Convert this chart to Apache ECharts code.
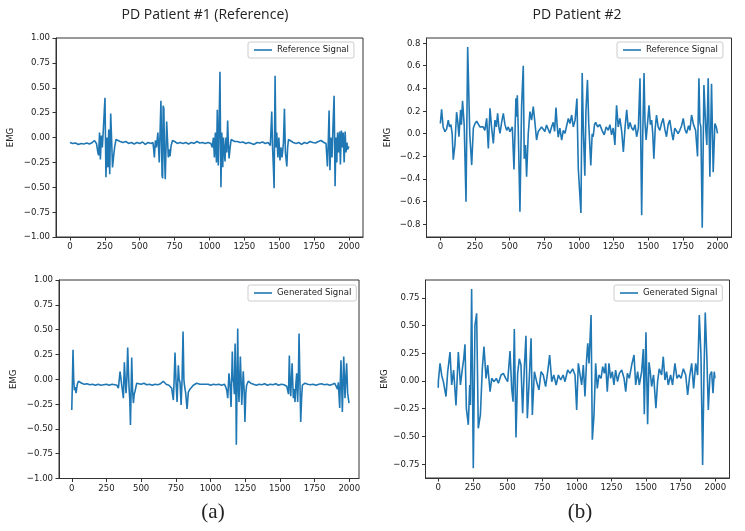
<!DOCTYPE html>
<html><head><meta charset="utf-8">
<script src="https://cdn.jsdelivr.net/npm/echarts@6/dist/echarts.min.js"></script>
<style>html,body{margin:0;padding:0;background:#fff}#c{width:745px;height:531px}</style>
</head><body><div id="c"></div><script>
const xTicks = [0,250,500,750,1000,1250,1500,1750,2000];
const yTicksA = [-1,-0.75,-0.5,-0.25,0,0.25,0.5,0.75,1];
const yTicksTR = [-0.8,-0.6,-0.4,-0.2,0,0.2,0.4,0.6,0.8];
const yTicksBR = [-0.75,-0.5,-0.25,0,0.25,0.5,0.75];
const panelTitles = ['PD Patient #1 (Reference)','PD Patient #2'];
const captions = ['(a)','(b)'];
const seriesNames = ['Reference Signal','Reference Signal','Generated Signal','Generated Signal'];

// Top-left: PD patient #1 reference
const tlX = [0,20,40,60,80,100,120,140,160,175,190,200,205,212,218,225,232,240,251,258,265,272,278,285,292,298,305,312,320,330,342,360,380,400,420,440,460,480,500,520,540,560,580,595,600,605,612,620,630,640,652,660,664,668,673,678,683,693,700,705,712,717,725,735,750,770,790,810,830,850,870,890,910,930,950,970,990,1010,1020,1028,1035,1042,1050,1056,1060,1063,1068,1075,1082,1088,1095,1100,1105,1111,1118,1124,1130,1135,1140,1148,1155,1165,1180,1200,1220,1240,1260,1280,1300,1320,1340,1360,1380,1400,1420,1436,1446,1452,1458,1463,1470,1476,1482,1490,1497,1505,1512,1520,1530,1537,1544,1554,1560,1566,1580,1600,1620,1640,1660,1680,1700,1720,1740,1760,1780,1800,1820,1835,1845,1850,1857,1863,1870,1878,1886,1893,1900,1906,1912,1918,1925,1932,1938,1945,1952,1958,1965,1972,1978,1985,1990,1999];
const tlY = [-0.05,-0.06,-0.055,-0.07,-0.06,-0.065,-0.055,-0.065,-0.05,-0.03,-0.06,-0.15,-0.18,0.05,-0.22,0.02,-0.1,0.1,0.40,-0.40,0.0,-0.3,0.08,-0.37,0.24,0.0,-0.3,-0.2,-0.1,-0.02,-0.01,-0.04,-0.05,-0.04,-0.06,-0.05,-0.065,-0.05,-0.06,-0.045,-0.07,-0.05,-0.06,-0.05,-0.12,-0.2,-0.03,-0.1,0.05,-0.25,0.37,-0.38,-0.41,0.32,0.29,-0.2,-0.42,0.16,-0.05,-0.2,-0.12,-0.19,-0.08,-0.03,-0.04,-0.06,-0.05,-0.06,-0.05,-0.065,-0.05,-0.06,-0.04,-0.055,-0.05,-0.06,-0.05,-0.06,-0.1,0.0,-0.2,0.05,-0.25,0.28,-0.1,-0.28,0.05,0.66,-0.50,0.05,-0.3,0.0,-0.1,-0.24,0.0,-0.15,0.17,-0.05,-0.21,-0.1,-0.02,-0.01,-0.04,-0.04,-0.05,-0.045,-0.06,-0.05,-0.06,-0.07,-0.05,-0.055,-0.045,-0.06,-0.05,-0.08,0.26,-0.1,-0.3,-0.51,0.62,-0.1,0.05,-0.2,0.0,-0.23,-0.1,-0.2,-0.05,0.29,-0.15,-0.29,-0.1,-0.02,-0.03,-0.05,-0.06,-0.05,-0.07,-0.05,-0.06,-0.04,-0.05,-0.055,-0.04,-0.03,-0.05,-0.06,-0.29,-0.1,0.27,-0.33,0.0,-0.2,0.15,0.42,-0.49,0.0,-0.25,0.05,-0.15,0.06,-0.27,0.07,-0.1,0.05,-0.25,0.06,-0.15,-0.05,-0.12,-0.09];

// Top-right: PD patient #2 reference
const trX = [0,9,20,33,45,57,66,76,85,93,105,117,126,134,146,152,160,172,185,197,212,226,238,250,262,273,285,297,309,321,334,346,358,370,382,394,404,413,422,430,442,454,466,478,490,502,519,531,545,550,555,562,574,586,598,605,614,622,634,646,658,670,682,694,706,718,730,742,754,766,778,790,802,814,824,834,842,850,862,875,887,899,911,923,935,947,959,972,985,995,1014,1023,1032,1042,1050,1061,1070,1085,1095,1102,1112,1120,1135,1150,1166,1182,1196,1211,1223,1235,1247,1259,1271,1283,1295,1308,1320,1332,1344,1356,1368,1380,1392,1404,1416,1428,1440,1452,1460,1469,1476,1484,1495,1505,1515,1524,1532,1540,1550,1559,1571,1583,1595,1607,1619,1631,1643,1655,1667,1679,1691,1703,1715,1727,1740,1752,1764,1776,1790,1800,1812,1826,1841,1855,1865,1872,1879,1889,1901,1915,1922,1932,1944,1956,1968,1980,1990,1999];
const trY = [0.09,0.216,0.06,0.018,0.04,0.12,0.06,0.08,0.0,-0.23,-0.1,0.19,0.1,-0.027,0.21,0.08,0.29,0.077,-0.60,0.765,0.0,-0.277,0.05,0.09,0.11,0.10,0.06,0.047,0.06,0.03,0.135,-0.13,0.224,0.05,-0.085,0.12,0.06,0.18,0.06,0.003,0.1,0.18,0.08,0.03,0.06,0.018,0.06,-0.316,0.313,0.15,0.34,0.03,-0.69,0.245,0.6,-0.22,-0.1,-0.38,0.0,0.195,0.12,0.24,0.1,-0.056,0.02,0.003,0.06,0.047,0.02,0.077,0.04,0.003,0.06,0.1,0.02,0.23,0.08,-0.03,0.05,-0.056,0.03,0.003,0.07,0.135,0.09,0.165,0.06,0.12,0.31,-0.31,-0.70,0.535,0.0,-0.37,0.2,0.475,0.1,-0.28,0.0,-0.027,0.08,0.10,0.06,0.08,0.03,-0.01,0.06,0.03,0.08,-0.01,0.05,-0.1,0.25,0.06,0.135,0.02,-0.16,0.05,0.21,0.04,0.1,0.05,0.03,0.08,-0.027,0.05,0.49,-0.72,0.0,0.535,0.1,-0.056,0.1,0.25,0.08,0.12,0.0,-0.22,0.05,0.165,0.06,0.03,0.09,0.135,0.04,-0.027,0.08,0.12,0.02,-0.056,0.05,0.06,0.0,0.03,0.07,0.135,0.04,0.003,0.07,0.03,0.165,0.08,0.03,-0.2,0.49,0.1,0.06,-0.83,0.43,0.03,-0.1,0.49,-0.38,0.44,-0.34,0.09,0.06,0.003];

// Bottom-left: PD patient #1 generated
const blX = [0,5,9,14,19,25,31,40,48,60,72,90,110,130,150,170,190,210,230,250,270,290,310,325,336,348,360,372,379,385,391,397,403,408,413,418,423,432,438,444,450,456,468,480,500,520,540,560,580,600,620,640,660,680,700,712,720,732,738,744,752,759,768,774,780,788,795,802,808,812,821,831,840,852,864,876,888,900,912,924,936,950,966,984,1000,1020,1040,1060,1080,1100,1110,1117,1124,1133,1140,1148,1157,1162,1167,1172,1177,1182,1186,1196,1200,1205,1210,1215,1220,1225,1230,1236,1242,1248,1254,1260,1272,1290,1310,1330,1350,1370,1390,1410,1430,1450,1470,1490,1510,1530,1549,1556,1562,1568,1573,1578,1583,1588,1593,1597,1603,1609,1615,1621,1628,1633,1638,1644,1650,1656,1662,1681,1700,1720,1740,1760,1780,1800,1820,1840,1860,1880,1895,1909,1915,1921,1931,1935,1940,1945,1950,1955,1960,1965,1969,1975,1981,1988,1993,1998];
const blY = [-0.31,0.0,0.296,0.0,-0.11,-0.08,-0.14,-0.05,-0.02,-0.04,-0.04,-0.05,-0.045,-0.055,-0.05,-0.06,-0.05,-0.06,-0.055,-0.05,-0.06,-0.05,-0.055,-0.06,-0.09,0.077,-0.058,-0.19,0.17,0.0,-0.14,0.0,0.32,0.1,-0.09,-0.2,-0.46,0.22,-0.1,-0.24,-0.15,-0.12,-0.04,-0.045,-0.05,-0.04,-0.055,-0.05,-0.06,-0.05,-0.055,-0.045,-0.02,-0.05,-0.06,-0.05,-0.09,-0.21,0.0,0.27,-0.05,-0.23,0.14,0.0,-0.03,-0.26,0.0,0.48,0.0,-0.06,-0.14,-0.30,-0.13,-0.1,-0.08,-0.06,-0.05,-0.04,-0.03,-0.05,-0.06,-0.05,-0.05,-0.05,-0.06,-0.05,-0.055,-0.05,-0.06,-0.05,-0.08,-0.11,-0.19,0.06,-0.05,-0.28,0.28,0.0,-0.03,-0.15,0.36,0.0,-0.66,0.51,0.0,-0.23,0.0,0.23,0.0,-0.26,-0.1,0.08,-0.1,-0.43,-0.15,-0.06,-0.02,-0.04,-0.05,-0.06,-0.05,-0.055,-0.045,-0.06,-0.05,-0.055,-0.045,-0.06,-0.05,-0.055,-0.07,-0.09,-0.15,0.24,-0.05,-0.17,0.0,0.16,-0.05,-0.19,-0.1,-0.23,-0.05,0.06,-0.23,0.0,0.46,0.0,-0.43,-0.2,-0.06,-0.04,-0.05,-0.055,-0.05,-0.06,-0.05,-0.045,-0.055,-0.05,-0.06,-0.05,-0.04,-0.05,-0.1,-0.03,-0.29,-0.05,0.19,-0.05,-0.33,-0.05,0.23,0.0,-0.19,0.0,0.16,-0.14,-0.15,-0.24];

// Bottom-right: PD patient #2 generated
const brX = [0,1,13,25,37,49,56,68,85,97,111,128,145,160,174,184,193,203,217,227,232,241,253,265,277,289,304,318,330,345,357,374,386,403,419,434,453,470,487,501,518,530,540,549,561,573,585,597,609,621,633,643,657,670,679,694,710,727,742,758,775,790,804,819,834,851,867,884,901,915,934,951,970,987,999,1011,1023,1035,1047,1059,1071,1079,1088,1103,1112,1124,1136,1148,1160,1175,1187,1199,1208,1220,1232,1244,1256,1268,1280,1294,1307,1324,1341,1353,1365,1379,1396,1413,1425,1439,1451,1468,1480,1487,1499,1511,1521,1530,1540,1554,1571,1583,1595,1612,1624,1636,1648,1660,1677,1691,1708,1723,1737,1752,1769,1786,1800,1814,1829,1843,1858,1872,1884,1896,1908,1918,1927,1939,1949,1961,1973,1983,1992,1997];
const brY = [-0.06,0.0,0.16,0.05,-0.006,0.01,-0.14,0.08,0.26,-0.036,0.098,-0.22,0.26,-0.036,0.11,0.2,0.33,-0.246,-0.395,-0.036,-0.216,0.829,-0.786,0.504,0.61,-0.426,-0.306,0.11,0.31,0.024,0.144,-0.096,0.024,-0.006,0.024,-0.02,0.054,0.069,0.024,-0.006,0.27,-0.066,-0.186,0.468,-0.51,0.069,0.2,0.144,-0.29,0.11,0.408,-0.336,0.024,0.384,-0.306,0.084,-0.006,-0.08,0.084,0.054,-0.05,0.084,0.234,-0.006,0.054,-0.036,0.054,0.009,0.054,-0.006,0.099,0.069,0.11,0.054,-0.26,0.159,0.144,-0.036,0.144,-0.14,0.2,0.339,0.159,0.594,-0.53,-0.306,0.159,-0.066,0.054,0.024,0.129,0.069,0.159,-0.096,0.159,0.024,0.084,-0.036,0.099,-0.006,0.069,0.099,0.024,-0.096,0.069,0.024,0.144,0.234,-0.036,0.084,-0.036,0.084,0.288,-0.3,0.438,-0.39,0.168,0.084,-0.05,0.054,-0.246,-0.006,0.11,0.054,0.219,0.009,0.084,-0.036,0.054,-0.036,0.159,0.024,0.054,0.024,0.11,0.054,-0.126,0.039,0.159,-0.066,0.159,0.054,0.594,0.234,-0.756,0.084,0.618,0.2,-0.26,0.054,0.084,-0.11,0.084,0.024];

const zip = (xs, ys) => xs.map((x, i) => [x, ys[i]]);
const fam = '"DejaVu Sans Condensed", "DejaVu Sans", sans-serif';
const lblColor = '#222';
const fmt = d => v => (v < 0 ? '\u2212' : '') + Math.abs(v).toFixed(d);

const grids = [
  {left: 56, top: 38, width: 307, height: 199},
  {left: 426.5, top: 38, width: 305, height: 199},
  {left: 59, top: 280, width: 300, height: 198.5},
  {left: 425.5, top: 280, width: 304, height: 198}
];
const xRanges = [[-100, 2100], [-100, 2100], [-92, 2070], [-92, 2102]];
const yCfg = [
  {min: -1, max: 1, ticks: yTicksA, d: 2, gap: 40},
  {min: -0.912, max: 0.845, ticks: yTicksTR, d: 1, gap: 34},
  {min: -1, max: 1, ticks: yTicksA, d: 2, gap: 40},
  {min: -0.874, max: 0.91, ticks: yTicksBR, d: 2, gap: 34}
];
const legendPos = [
  {left: 248, top: 42},
  {left: 617, top: 42},
  {left: 248, top: 285},
  {left: 614, top: 285}
];
const datas = [zip(tlX, tlY), zip(trX, trY), zip(blX, blY), zip(brX, brY)];

const option = {
  animation: false,
  backgroundColor: '#fff',
  grid: grids.map(g => Object.assign({show: true, borderColor: '#333', borderWidth: 1, backgroundColor: '#fff'}, g)),
  xAxis: grids.map((g, i) => ({
    type: 'value', gridIndex: i, min: xRanges[i][0], max: xRanges[i][1],
    axisLine: {show: true, onZero: false, lineStyle: {color: '#333', width: 1}},
    axisTick: {show: true, length: 3.5, customValues: xTicks, lineStyle: {color: '#333'}},
    axisLabel: {show: true, customValues: xTicks, margin: 5, fontSize: 9.5, fontFamily: fam, color: lblColor, formatter: v => String(v)},
    splitLine: {show: false}
  })),
  yAxis: yCfg.map((c, i) => ({
    type: 'value', gridIndex: i, min: c.min, max: c.max,
    name: 'EMG', nameLocation: 'middle', nameRotate: 90, nameGap: c.gap,
    nameTextStyle: {fontSize: 9.5, fontFamily: fam, color: lblColor},
    axisLine: {show: true, onZero: false, lineStyle: {color: '#333', width: 1}},
    axisTick: {show: true, length: 3.5, customValues: c.ticks, lineStyle: {color: '#333'}},
    axisLabel: {show: true, customValues: c.ticks, margin: 6, fontSize: 9.5, fontFamily: fam, color: lblColor, formatter: fmt(c.d)},
    splitLine: {show: false}
  })),
  legend: legendPos.map((p, i) => ({
    left: p.left, top: p.top, data: [seriesNames[i]], icon: 'rect', itemWidth: 18, itemHeight: 1.6,
    itemGap: 6, padding: [3, 5, 3, 6], borderColor: '#ccc', borderWidth: 1, borderRadius: 2,
    backgroundColor: '#fff', textStyle: {fontSize: 9.5, fontFamily: fam, color: lblColor}, selectedMode: false
  })),
  series: datas.map((d, i) => ({
    name: seriesNames[i], type: 'line', xAxisIndex: i, yAxisIndex: i, data: d,
    showSymbol: false, symbol: 'none', lineStyle: {color: '#1f77b4', width: 1.6}, itemStyle: {color: '#1f77b4'}
  })),
  graphic: [
    {type: 'text', x: 205, y: 15, style: {text: panelTitles[0], textAlign: 'center', textVerticalAlign: 'middle', font: '14px "Open Sans", sans-serif', fill: '#222'}},
    {type: 'text', x: 577, y: 15, style: {text: panelTitles[1], textAlign: 'center', textVerticalAlign: 'middle', font: '14px "Open Sans", sans-serif', fill: '#222'}},
    {type: 'text', x: 213, y: 512, style: {text: captions[0], textAlign: 'center', textVerticalAlign: 'middle', font: '21px "Liberation Serif", serif', fill: '#222'}},
    {type: 'text', x: 580, y: 512, style: {text: captions[1], textAlign: 'center', textVerticalAlign: 'middle', font: '21px "Liberation Serif", serif', fill: '#222'}}
  ]
};
const chart = echarts.init(document.getElementById('c'), null, {renderer: 'canvas'});
chart.setOption(option);
</script></body></html>
